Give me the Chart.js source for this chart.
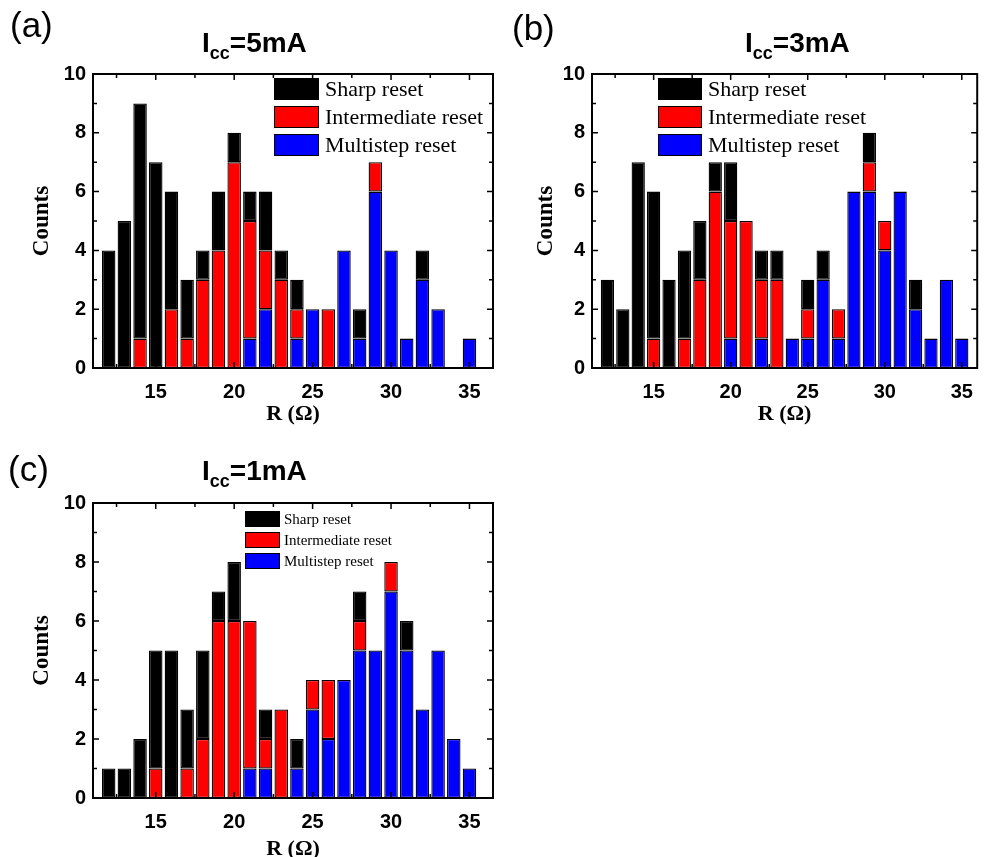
<!DOCTYPE html>
<html>
<head>
<meta charset="utf-8">
<script src="https://cdn.jsdelivr.net/npm/chart.js@4.4.1/dist/chart.umd.min.js"></script>
<style>
  html, body { margin: 0; padding: 0; background: #fff; overflow: hidden; }
  body { width: 985px; height: 857px; position: relative; }
  canvas { position: absolute; }
</style>
</head>
<body>
<canvas id="chartA" width="500" height="440" style="left:0;top:0"></canvas>
<canvas id="chartB" width="485" height="440" style="left:500px;top:0"></canvas>
<canvas id="chartC" width="500" height="440" style="left:0;top:430px"></canvas>
<script>
// resistance bins (Ohm)
const resistance = [12, 13, 14, 15, 16, 17, 18, 19, 20, 21, 22, 23, 24, 25, 26, 27, 28, 29, 30, 31, 32, 33, 34, 35];

// Icc = 5mA
const sharpA = [4, 5, 8, 7, 4, 2, 1, 2, 1, 1, 2, 1, 1, 0, 0, 0, 1, 0, 0, 0, 1, 0, 0, 0];
const interA = [0, 0, 1, 0, 2, 1, 3, 4, 7, 4, 2, 3, 1, 0, 2, 0, 0, 1, 0, 0, 0, 0, 0, 0];
const multiA = [0, 0, 0, 0, 0, 0, 0, 0, 0, 1, 2, 0, 1, 2, 0, 4, 1, 6, 4, 1, 3, 2, 0, 1];

// Icc = 3mA
const sharpB = [3, 2, 7, 5, 3, 3, 2, 1, 2, 0, 1, 1, 0, 1, 1, 0, 0, 1, 0, 0, 1, 0, 0, 0];
const interB = [0, 0, 0, 1, 0, 1, 3, 6, 4, 5, 2, 3, 0, 1, 0, 1, 0, 1, 1, 0, 0, 0, 0, 0];
const multiB = [0, 0, 0, 0, 0, 0, 0, 0, 1, 0, 1, 0, 1, 1, 3, 1, 6, 6, 4, 6, 2, 1, 3, 1];

// Icc = 1mA
const sharpC = [1, 1, 2, 4, 5, 2, 3, 1, 2, 0, 1, 0, 1, 0, 0, 0, 1, 0, 0, 1, 0, 0, 0, 0];
const interC = [0, 0, 0, 1, 0, 1, 2, 6, 6, 5, 1, 3, 0, 1, 2, 0, 1, 0, 1, 0, 0, 0, 0, 0];
const multiC = [0, 0, 0, 0, 0, 0, 0, 0, 0, 1, 1, 0, 1, 3, 2, 4, 5, 5, 7, 5, 3, 5, 2, 1];

// tick values
const xLabelTicks = [15, 20, 25, 30, 35];
const xMinorTicks = [12.5, 17.5, 22.5, 27.5, 32.5];
const yLabelTicks = [0, 2, 4, 6, 8, 10];
const yMinorTicks = [1, 3, 5, 7, 9];

const SANS = '"Liberation Sans", Arial, sans-serif';
const SERIF = '"Liberation Serif", "Times New Roman", serif';

// box around the plot with inward ticks on every side
const frameTicks = {
  id: 'frameTicks',
  afterDatasetsDraw(chart) {
    const { ctx, chartArea: a, scales: { x, y } } = chart;
    ctx.save();
    ctx.strokeStyle = '#000';
    ctx.lineWidth = 1.5;
    ctx.beginPath();
    const xt = (v, len) => {
      const px = x.getPixelForValue(v);
      ctx.moveTo(px, a.bottom); ctx.lineTo(px, a.bottom - len);
      ctx.moveTo(px, a.top); ctx.lineTo(px, a.top + len);
    };
    const yt = (v, len) => {
      const py = y.getPixelForValue(v);
      ctx.moveTo(a.left, py); ctx.lineTo(a.left + len, py);
      ctx.moveTo(a.right, py); ctx.lineTo(a.right - len, py);
    };
    xLabelTicks.forEach(v => xt(v, 6));
    xMinorTicks.forEach(v => xt(v, 4));
    yLabelTicks.forEach(v => yt(v, 6));
    yMinorTicks.forEach(v => yt(v, 4));
    ctx.stroke();
    ctx.lineWidth = 2;
    ctx.strokeRect(a.left, a.top, a.right - a.left, a.bottom - a.top);
    ctx.restore();
  }
};

// legend drawn inside the plot
const boxLegend = {
  id: 'boxLegend',
  afterDraw(chart, args, o) {
    const ctx = chart.ctx;
    const items = chart.data.datasets.slice().reverse();
    ctx.save();
    ctx.font = o.fontSize + 'px ' + SERIF;
    ctx.textBaseline = 'middle';
    items.forEach((ds, i) => {
      const top = o.y + i * o.step;
      ctx.fillStyle = ds.backgroundColor;
      ctx.fillRect(o.x, top, o.boxW, o.boxH);
      ctx.lineWidth = 1;
      ctx.strokeStyle = '#000';
      ctx.strokeRect(o.x + 0.5, top + 0.5, o.boxW - 1, o.boxH - 1);
      ctx.fillStyle = '#000';
      ctx.fillText(ds.label, o.x + o.boxW + o.textGap, top + o.boxH / 2 + 1);
    });
    ctx.restore();
  }
};

// panel letter and I_cc title
const panelHead = {
  id: 'panelHead',
  afterDraw(chart, args, o) {
    const ctx = chart.ctx;
    ctx.save();
    ctx.fillStyle = '#000';
    ctx.textBaseline = 'alphabetic';
    ctx.font = '35px ' + SANS;
    ctx.fillText(o.label, o.labelX, o.labelY);
    let x = o.titleX;
    ctx.font = 'bold 28px ' + SANS;
    ctx.fillText('I', x, o.titleY);
    x += ctx.measureText('I').width;
    ctx.font = 'bold 18px ' + SANS;
    ctx.fillText('cc', x, o.titleY + 7);
    x += ctx.measureText('cc').width;
    ctx.font = 'bold 28px ' + SANS;
    ctx.fillText('=' + o.current, x, o.titleY);
    ctx.restore();
  }
};

function makeChart(id, sharp, inter, multi, cfg) {
  const toPts = vals => resistance.map((r, i) => ({ x: r, y: vals[i] || null }));
  return new Chart(document.getElementById(id), {
    type: 'bar',
    data: {
      datasets: [
        { label: 'Multistep reset', data: toPts(multi), backgroundColor: '#0000ff' },
        { label: 'Intermediate reset', data: toPts(inter), backgroundColor: '#ff0000' },
        { label: 'Sharp reset', data: toPts(sharp), backgroundColor: '#000000' }
      ]
    },
    options: {
      responsive: false,
      animation: false,
      devicePixelRatio: 1,
      layout: { padding: { top: cfg.top, right: cfg.right, left: 0, bottom: 0 } },
      datasets: {
        bar: { borderColor: '#000', borderWidth: 1.3, borderSkipped: false, barPercentage: 0.86, categoryPercentage: 1 }
      },
      scales: {
        x: {
          type: 'linear', stacked: true, offset: false, min: 11, max: cfg.xMax,
          grid: { display: false, drawTicks: false }, border: { display: false },
          afterBuildTicks: s => { s.ticks = xLabelTicks.map(v => ({ value: v })); },
          afterFit: s => { s.height = cfg.xAxisH; },
          ticks: { padding: 12, autoSkip: false, maxRotation: 0, color: '#000', font: { family: SANS, size: 20, weight: 'bold' } },
          title: { display: true, text: 'R (Ω)', color: '#000', font: { family: SERIF, size: 22, weight: 'bold' }, padding: { top: 0, bottom: cfg.xTitlePad } }
        },
        y: {
          stacked: true, min: 0, max: 10,
          grid: { display: false, drawTicks: false }, border: { display: false },
          afterBuildTicks: s => { s.ticks = yLabelTicks.map(v => ({ value: v })); },
          afterFit: s => { s.width = cfg.yAxisW; },
          ticks: { padding: 7, color: '#000', font: { family: SANS, size: 20, weight: 'bold' } },
          title: { display: true, text: 'Counts', color: '#000', font: { family: SERIF, size: 23, weight: 'bold' }, padding: { top: cfg.yTitlePad, bottom: 0 } }
        }
      },
      plugins: {
        legend: { display: false },
        tooltip: { enabled: false },
        boxLegend: cfg.legend,
        panelHead: cfg.head
      }
    },
    plugins: [frameTicks, boxLegend, panelHead]
  });
}

makeChart('chartA', sharpA, interA, multiA, {
  top: 74, right: 7, xMax: 36.5, xAxisH: 72, yAxisW: 93, yTitlePad: 28, xTitlePad: 12,
  legend: { x: 274, y: 78, boxW: 45, boxH: 22, step: 28, fontSize: 22, textGap: 6 },
  head: { label: '(a)', labelX: 10, labelY: 37, titleX: 202, titleY: 52, current: '5mA' }
});

makeChart('chartB', sharpB, interB, multiB, {
  top: 74, right: 2, xMax: 36, xAxisH: 72, yAxisW: 92, yTitlePad: 32, xTitlePad: 12,
  legend: { x: 158, y: 78, boxW: 44, boxH: 22, step: 28, fontSize: 22, textGap: 6 },
  head: { label: '(b)', labelX: 12, labelY: 40, titleX: 245, titleY: 52, current: '3mA' }
});

makeChart('chartC', sharpC, interC, multiC, {
  top: 73, right: 7, xMax: 36.5, xAxisH: 72, yAxisW: 93, yTitlePad: 28, xTitlePad: 7,
  legend: { x: 245, y: 81, boxW: 35, boxH: 16, step: 21, fontSize: 15, textGap: 4 },
  head: { label: '(c)', labelX: 8, labelY: 51, titleX: 202, titleY: 50, current: '1mA' }
});
</script>
</body>
</html>
